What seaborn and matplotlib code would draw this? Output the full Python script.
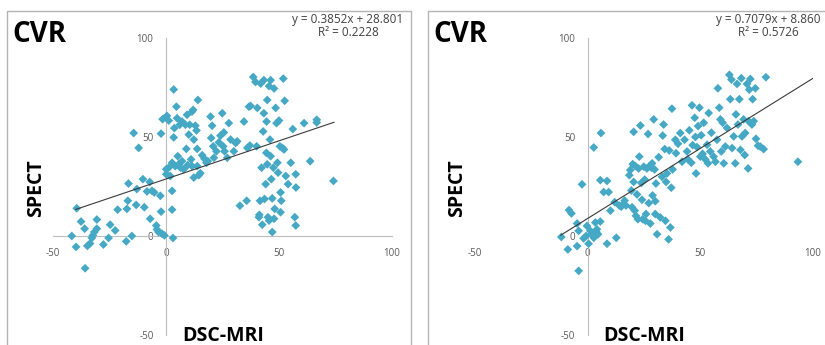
import numpy as np
import pandas as pd
import matplotlib
matplotlib.use("Agg")
import matplotlib.pyplot as plt
from matplotlib.patches import Rectangle
import seaborn as sns

# left panel: DSC-MRI vs SPECT (CVR)
dsc_a = [-41.7,-39.5,-39.8,-37.6,-36,-35.8,-34.8,-33.6,-32.8,-31.7,
         -30.6,-30.6,-32.4,-27.7,-24.7,-25.4,-22.5,-21.4,-17.6,-16.9,
         -17.3,-16.6,-15.1,-14.3,-13.2,-12.1,-12.9,-10.2,-9.6,-8.4,
         -7.2,-7,-6.2,-5.2,-4.3,-4,-3.3,-2.5,-2.2,-1.8,
         -0.7,-2.2,-1.5,0.4,1.2,0.1,0.1,1.2,1.9,2.7,
         2.7,2.7,3.1,3.4,3.4,3.7,4.1,4.6,4.9,5.2,
         5.6,6.1,6.4,7.1,7.1,7.8,8.6,9,9.3,9.6,
         10.1,10.5,11.1,11.5,11.5,12,12.3,12.3,13,13.5,
         13.8,14.1,13.8,14.5,15.2,16,17,17.9,18.5,19.7,
         20,20.4,20.9,21.2,22.3,23.4,24.1,24.9,25.3,25.6,
         25.9,27.1,27.8,28.6,30,30.8,31.5,32.7,34.5,35.7,
         36,36.7,37.1,37.4,38.6,39.6,40.1,40.4,41.1,41.3,
         41.6,41.9,42.3,42.6,43,43.3,43.3,43.6,44.1,44.4,
         44.5,44.8,44.8,45.1,45.6,45.6,46,46.3,46.3,46.6,
         47,47,47.5,47.8,47.8,48.1,48.5,48.9,49.3,49.6,
         50,50.4,50.7,50.7,51,51.5,51.9,52.2,52.5,53,
         54,55.2,56.1,57,57.4,57.4,57.5,61.1,63.8,66.7,
         66.7,74.1]
spect_a = [0,14,-5.5,7.3,3.7,-16.3,-5,-3.8,-1,2,
           3.7,8.3,0.3,-4.3,5.7,-1,2.8,13.3,-2.7,17.8,
           13.7,26.5,0,52,15.7,44.5,23.7,28.7,14.5,22.5,
           27.3,8.7,22.8,22,5.3,3.3,2,20.3,12.3,1.2,
           0.3,51.7,59,60.7,58.3,31.2,33.7,34.5,30.3,37,
           22.8,13.3,-1,74,49.8,54.5,35.3,65.3,59.5,40.3,
           36.2,56.2,34.5,57.8,37.8,33.7,56.2,44,61.2,35.8,
           51.2,56.2,38.7,35.3,62.8,63.7,48.7,29.5,55.7,53.3,
           35.3,68.7,44,30.7,31.7,40.8,39,37,37.8,60.3,
           49.5,55.7,45.3,39.5,42.8,47.3,50.7,62,45.3,52.3,
           42.8,39.5,57,48.7,42.8,47,47.8,15.3,57.8,17.8,
           44.5,65.3,45.7,65.7,80.3,77.8,45.3,64.7,9.5,10.7,
           17.8,77,34.5,5.7,52.8,62,78.7,18.7,26.2,42,
           57.8,68.7,36.2,9.5,75.7,7.8,48.7,40.3,78.7,28.7,
           2,19,34.5,74.5,8.7,13.7,64.7,57,37,32,
           58.3,45.3,22,12,17.8,44.5,79.5,43.7,68.3,30.3,
           26.2,37,54,9.5,5.3,31.2,24.5,57,37.8,58.7,
           57.3,27.8]

# right panel
dsc_b = [-11.7,-8.8,-8.3,-7.2,-4.7,-4.7,-4,-4,-2.5,-1.8,
         -0.7,-0.3,0.4,1.2,1.9,2.7,2.7,3.4,3.7,4.1,
         4.6,5.6,5.6,5.9,7.1,8.6,8.6,9.3,10.1,12,
         12.7,14,14.9,15.9,16.4,17,18.5,18.9,19.4,19.7,
         20,20.4,20.4,20.9,21.2,21.4,21.9,22.3,22.6,22.9,
         23.4,23.8,24.1,24.4,24.9,25.3,25.6,25.9,26.3,26.8,
         27.1,27.4,27.8,28.3,28.6,28.8,29.3,29.7,30,30,
         30.3,30.8,31.5,32.2,33,33.3,33.7,34.2,34.5,34.8,
         35.2,35.9,36.2,36.7,37.1,37.4,37.7,38.9,39.2,40.1,
         41.1,41.9,43,44.1,44.5,45.1,46,46.3,46.6,47.5,
         47.8,48.1,48.5,49,49.6,50,50.4,51,51.5,52.2,
         53,53.4,53.7,54.4,54.9,55.9,56.7,57.4,57.8,58.4,
         58.9,59.3,59.9,60.4,61.1,61.8,62.9,63.3,63.8,64.1,
         64.8,65.5,65.8,66.3,66.7,67.3,67.8,68.2,68.5,69.2,
         69.7,69.9,70.7,71.2,71.4,71.7,72.2,72.9,73.2,73.7,
         74.4,74.7,75.6,76.6,78.1,79.1,93.3]
spect_b = [-0.5,-6.8,13.1,11.4,6.3,-5.1,2.6,-17.6,26.1,-1.2,
           0,5.1,-3.9,2.6,0.9,-0.9,44.7,6.8,2.2,3.4,
           0.9,7.3,28.2,52,22.2,-3.9,27.8,22.2,12.8,17.1,
           -0.9,15.4,14.8,16.2,17.9,15.4,30.7,33.3,23,14.5,
           36.3,52.6,27.3,12.8,35.3,10.2,21,8.5,34.1,40.1,
           55.8,26.8,18.3,8.5,35,28.5,7.7,11.1,34.1,51.5,
           16.6,35.3,6.3,34.5,36.7,20.5,58.9,33.6,17.6,11.1,
           26.5,0.9,39.8,9.4,29.9,50.7,56.3,43.9,7.7,27.3,
           31.6,-1.7,43.2,4.3,24.4,64.3,33.6,48.6,41.8,46.6,
           52,37.5,48.6,42.7,38.7,53.4,37,66,45.9,59.7,
           50,31.6,44.9,55.5,64.8,40.1,50.9,41.5,57.2,38.7,
           46.1,36.7,62.1,42.7,52.2,40.1,37.5,48.6,74.6,64.8,
           58.9,42.7,57.2,36.7,45.2,54.6,81.4,69.1,79,44.4,
           50.3,36.7,61.4,76.8,56.3,69.1,43.5,79.7,50.3,58.9,
           40.9,52,76.8,34.1,58,73.9,79.3,56.3,69.1,58,
           74.6,49.1,45.6,45.2,43.9,80.2,37.5]

# trendlines as printed on the chart
slopes = [0.3852, 0.7079]
intercepts = [28.801, 8.860]
r_squared = ["0.2228", "0.5726"]
fit_ranges = [[-40, 74.4], [-12, 101]]
ticks = [-50, 0, 50, 100]

sns.set_style("white")
plt.rcParams["font.family"] = ["Open Sans", "DejaVu Sans"]
plt.rcParams["axes.unicode_minus"] = False

W, H = 825, 345
fig = plt.figure(figsize=(W / 100, H / 100), dpi=100)

def px(x, y):
    return x / W, 1 - y / H

# panel frames
for x0, x1 in [(7, 411), (428, 826)]:
    fig.add_artist(Rectangle(px(x0, 350), (x1 - x0) / W, (350 - 11) / H,
                             transform=fig.transFigure, fill=False,
                             edgecolor="#b4b4b4", linewidth=1))

ax_a = fig.add_axes([53 / W, 10 / H, 339 / W, 297 / H])
ax_b = fig.add_axes([475 / W, 10 / H, 338 / W, 297 / H])

panels = [(ax_a, dsc_a, spect_a), (ax_b, dsc_b, spect_b)]
for i, (ax, xs, ys) in enumerate(panels):
    df = pd.DataFrame({"dsc": xs, "spect": ys})
    sns.scatterplot(data=df, x="dsc", y="spect", marker="D", s=20,
                    color="#45a8c4", edgecolor="none", linewidth=0, ax=ax, zorder=3)
    fx = np.array(fit_ranges[i])
    ax.plot(fx, slopes[i] * fx + intercepts[i], color="#3a3a3a", lw=0.8, zorder=4)

    ax.set_xlim(-50, 100)
    ax.set_ylim(-50, 100)
    ax.set_xticks(ticks)
    ax.set_yticks(ticks)
    ax.set_xlabel("")
    ax.set_ylabel("")
    ax.patch.set_alpha(0)
    for s in ["top", "right"]:
        ax.spines[s].set_visible(False)
    ax.spines["left"].set_position(("data", 0))
    ax.spines["bottom"].set_position(("data", 0))
    ax.spines["left"].set_color("#bdbdbd")
    ax.spines["bottom"].set_color("#bdbdbd")
    ax.spines["left"].set_zorder(1)
    ax.spines["bottom"].set_zorder(1)
    ax.tick_params(axis="both", direction="out", length=3, width=0.8,
                   color="#bdbdbd", labelsize=7, labelcolor="#595959", pad=6)

ax_b.spines["bottom"].set_visible(False)
ax_b.tick_params(axis="x", color="#e0e0e0")

# texts
for ox in [0, 421]:
    fig.text(*px(12 + ox, 34), "CVR", fontsize=20, fontweight="bold",
             ha="left", va="center", color="black")
    fig.text(*px(36 + ox, 188), "SPECT", fontsize=14, fontweight="bold",
             rotation=90, ha="center", va="center", color="black")
    fig.text(*px(223 + ox, 336), "DSC-MRI", fontsize=14, fontweight="bold",
             ha="center", va="center", color="black")

for i, eq_cx in enumerate([348, 768]):
    fig.text(*px(eq_cx, 19), f"y = {slopes[i]:.4f}x + {intercepts[i]:.3f}",
             fontsize=8.5, ha="center", va="center", color="#404040")
    fig.text(*px(eq_cx, 33), f"R² = {r_squared[i]}",
             fontsize=8.5, ha="center", va="center", color="#404040")

fig.savefig("out.png", dpi=100)
